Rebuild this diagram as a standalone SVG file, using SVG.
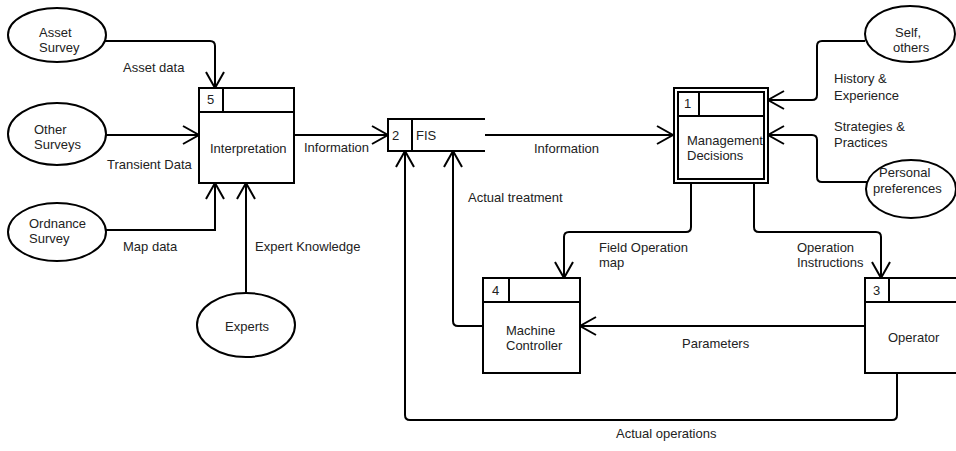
<svg xmlns="http://www.w3.org/2000/svg" width="956" height="451" viewBox="0 0 956 451">
<style>
text{font-family:"Liberation Sans",Arial,sans-serif;font-size:13px;fill:#222}
.shape{fill:#fff;stroke:#000;stroke-width:2}
.ln{fill:none;stroke:#000;stroke-width:2}
.conn{fill:none;stroke:#000;stroke-width:2}
</style>
<defs>
<marker id="arr" markerUnits="userSpaceOnUse" markerWidth="20" markerHeight="22" viewBox="-18 -11 20 22" refX="0" refY="0" orient="auto">
<path d="M-16,-9 L0,0 L-16,9" fill="none" stroke="#000" stroke-width="2"/>
</marker>
</defs>
<rect width="956" height="451" fill="#fff"/>
<g id="connectors">
<path class="conn" d="M105,41 H210 Q215,41 215,46 V88" marker-end="url(#arr)"/>
<path class="conn" d="M105,135 H199" marker-end="url(#arr)"/>
<path class="conn" d="M105,230 H215 V183" marker-end="url(#arr)"/>
<path class="conn" d="M246,293 V183" marker-end="url(#arr)"/>
<path class="conn" d="M294,135 H388" marker-end="url(#arr)"/>
<path class="conn" d="M484,135 H673" marker-end="url(#arr)"/>
<path class="conn" d="M865,41 H822 Q817,41 817,46 V95 Q817,100 812,100 H768" marker-end="url(#arr)"/>
<path class="conn" d="M867,182 H822 Q817,182 817,177 V140 Q817,135 812,135 H768" marker-end="url(#arr)"/>
<path class="conn" d="M691,183 V227 Q691,232 686,232 H569 Q564,232 564,237 V278" marker-end="url(#arr)"/>
<path class="conn" d="M754,183 V227 Q754,232 759,232 H876 Q881,232 881,237 V278" marker-end="url(#arr)"/>
<path class="conn" d="M865,326 H580" marker-end="url(#arr)"/>
<path class="conn" d="M483,326 H458 Q453,326 453,321 V151" marker-end="url(#arr)"/>
<path class="conn" d="M897,373 V415 Q897,420 892,420 H410 Q405,420 405,415 V151" marker-end="url(#arr)"/>
<text x="123" y="72">Asset data</text>
<text x="107" y="169">Transient Data</text>
<text x="123" y="251">Map data</text>
<text x="255" y="251">Expert Knowledge</text>
<text x="304" y="152">Information</text>
<text x="534" y="153">Information</text>
<text x="468" y="202">Actual treatment</text>
<text x="834" y="83">History &amp;</text>
<text x="834" y="100">Experience</text>
<text x="834" y="131">Strategies &amp;</text>
<text x="834" y="147">Practices</text>
<text x="599" y="252">Field Operation</text>
<text x="599" y="267">map</text>
<text x="797" y="252">Operation</text>
<text x="797" y="267">Instructions</text>
<text x="682" y="348">Parameters</text>
<text x="616" y="438">Actual operations</text>
</g>
<g id="asset-survey">
<ellipse class="shape" cx="57" cy="35" rx="49" ry="27"/>
<text x="39" y="37">Asset</text>
<text x="39" y="52">Survey</text>
</g>
<g id="other-surveys">
<ellipse class="shape" cx="57" cy="134" rx="49" ry="31"/>
<text x="34" y="134">Other</text>
<text x="34" y="149">Surveys</text>
</g>
<g id="ordnance-survey">
<ellipse class="shape" cx="57" cy="232" rx="49" ry="29"/>
<text x="29" y="228">Ordnance</text>
<text x="29" y="243">Survey</text>
</g>
<g id="experts">
<ellipse class="shape" cx="246" cy="325" rx="49" ry="32"/>
<text x="225" y="331">Experts</text>
</g>
<g id="self-others">
<ellipse class="shape" cx="910" cy="34" rx="45" ry="28"/>
<text x="895" y="37">Self,</text>
<text x="893" y="52">others</text>
</g>
<g id="personal-preferences">
<ellipse class="shape" cx="911" cy="189" rx="45" ry="29"/>
<text x="879" y="177">Personal</text>
<text x="873" y="193">preferences</text>
</g>
<g id="p5-interpretation">
<rect class="shape" x="199" y="88" width="95" height="95"/>
<path class="ln" d="M199,112 H294 M223,88 V112"/>
<text x="207" y="104">5</text>
<text x="210" y="153">Interpretation</text>
</g>
<g id="ds2-fis">
<rect x="388" y="119" width="97" height="32" fill="#fff"/>
<path class="ln" d="M485,119 H388 V151 H485 M412,119 V151"/>
<text x="392" y="140">2</text>
<text x="416" y="140">FIS</text>
</g>
<g id="p1-management">
<rect class="shape" x="674" y="88" width="94" height="95"/>
<rect class="shape" x="678" y="92" width="86" height="87"/>
<path class="ln" d="M678,116 H764 M699,92 V116"/>
<text x="684" y="108">1</text>
<text x="687" y="145">Management</text>
<text x="687" y="160">Decisions</text>
</g>
<g id="p4-machine-controller">
<rect class="shape" x="483" y="278" width="97" height="95"/>
<path class="ln" d="M483,302 H580 M509,278 V302"/>
<text x="492" y="295">4</text>
<text x="506" y="335">Machine</text>
<text x="506" y="350">Controller</text>
</g>
<g id="p3-operator">
<rect class="shape" x="865" y="278" width="100" height="95"/>
<path class="ln" d="M865,302 H965 M889,278 V302"/>
<text x="873" y="295">3</text>
<text x="888" y="342">Operator</text>
</g>
</svg>
